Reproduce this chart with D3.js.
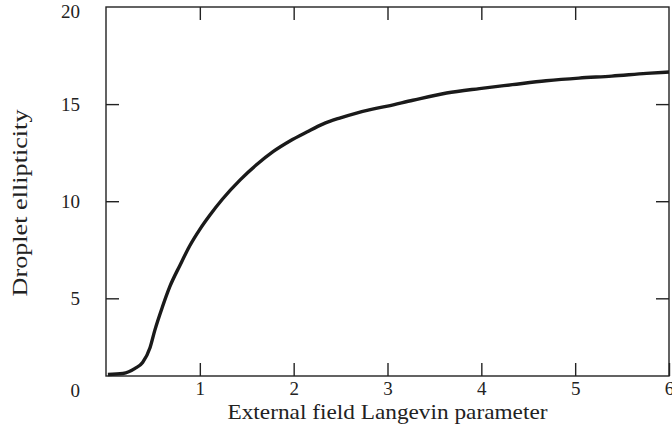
<!DOCTYPE html>
<html>
<head>
<meta charset="utf-8">
<script src="https://cdn.jsdelivr.net/npm/d3@7.9.0/dist/d3.min.js"></script>
<style>
  body { margin: 0; background: #fff; }
  svg text { font-family: "Liberation Serif", "DejaVu Serif", serif; fill: #222; }
</style>
</head>
<body>
<svg id="chart" width="672" height="434"></svg>
<script>
// values
const fieldX = [0.02, 0.18, 0.31, 0.39, 0.47, 0.52, 0.60, 0.68, 0.79, 0.89, 1.0, 1.11, 1.24, 1.43, 1.61, 1.78,
  1.96, 2.14, 2.31, 2.49, 2.67, 2.84, 3.0, 3.27, 3.63, 3.98, 4.33, 4.69, 5.04, 5.39, 5.76, 6.0];
const ellipticity = [1.08, 1.13, 1.39, 1.70, 2.47, 3.35, 4.54, 5.6, 6.72, 7.68, 8.55, 9.3, 10.1, 11.1, 11.9, 12.55,
  13.1, 13.56, 13.97, 14.28, 14.54, 14.74, 14.9, 15.2, 15.57, 15.8, 16.0, 16.2, 16.34, 16.44, 16.58, 16.65];
const xTicks = [1, 2, 3, 4, 5, 6];
const yTicks = [0, 5, 10, 15, 20];

const margin = { top: 7, right: 3, bottom: 58, left: 106 };
const width = 672 - margin.left - margin.right;
const height = 434 - margin.top - margin.bottom;

const svg = d3.select('#chart');
const g = svg.append('g').attr('transform', `translate(${margin.left},${margin.top})`);

const x = d3.scaleLinear().domain([0, 6]).range([0, width]);
const y = d3.scaleLinear().domain([1, 20]).range([height, 0]);

const data = fieldX.map((v, i) => ({ x: v, y: ellipticity[i] }));

// frame
g.append('rect')
  .attr('width', width).attr('height', height)
  .attr('fill', 'none').attr('stroke', '#222').attr('stroke-width', 1.4);

const tickLen = 13;
function styleAxis(sel) {
  sel.select('.domain').remove();
  sel.selectAll('line').attr('stroke', '#222').attr('stroke-width', 1.4);
  sel.selectAll('text').style('font-size', '19px');
}

// bottom axis (ticks inward)
g.append('g').attr('transform', `translate(0,${height})`)
  .call(d3.axisBottom(x).tickValues(xTicks).tickSize(-tickLen).tickPadding(13).tickFormat(d3.format('d')))
  .call(styleAxis)
  .call(s => s.selectAll('text').attr('dy', '0.32em'));

// top axis, ticks only
g.append('g')
  .call(d3.axisTop(x).tickValues(xTicks.slice(0, -1)).tickSize(-tickLen).tickFormat(''))
  .call(styleAxis);

// left axis
g.append('g')
  .call(d3.axisLeft(y).tickValues(yTicks).tickSize(-tickLen).tickPadding(tickLen + 13).tickFormat(d3.format('d')))
  .call(styleAxis)
  .call(s => {
    s.selectAll('.tick').filter(d => d === 0 || d === 20).select('line').remove();
    s.selectAll('.tick').filter(d => d === 0).select('text').attr('dy', '0.05em');
    s.selectAll('.tick').filter(d => d === 20).select('text').attr('dy', '0.55em');
  });

// right axis, ticks only
g.append('g').attr('transform', `translate(${width},0)`)
  .call(d3.axisRight(y).tickValues([5, 10, 15]).tickSize(-tickLen).tickFormat(''))
  .call(styleAxis);

// curve
const line = d3.line()
  .x(d => x(d.x))
  .y(d => y(d.y))
  .curve(d3.curveMonotoneX);

g.append('path')
  .datum(data)
  .attr('d', line)
  .attr('fill', 'none')
  .attr('stroke', '#1a1a1a')
  .attr('stroke-width', 3.4)
  .attr('stroke-linejoin', 'round');

// axis labels
svg.append('text')
  .attr('x', margin.left + width / 2)
  .attr('y', 419)
  .attr('text-anchor', 'middle')
  .attr('textLength', 320)
  .attr('lengthAdjust', 'spacingAndGlyphs')
  .style('font-size', '21px')
  .text('External field Langevin parameter');

svg.append('text')
  .attr('transform', 'translate(27,203) rotate(-90)')
  .attr('text-anchor', 'middle')
  .attr('textLength', 187)
  .attr('lengthAdjust', 'spacingAndGlyphs')
  .style('font-size', '22px')
  .text('Droplet ellipticity');
</script>
</body>
</html>
